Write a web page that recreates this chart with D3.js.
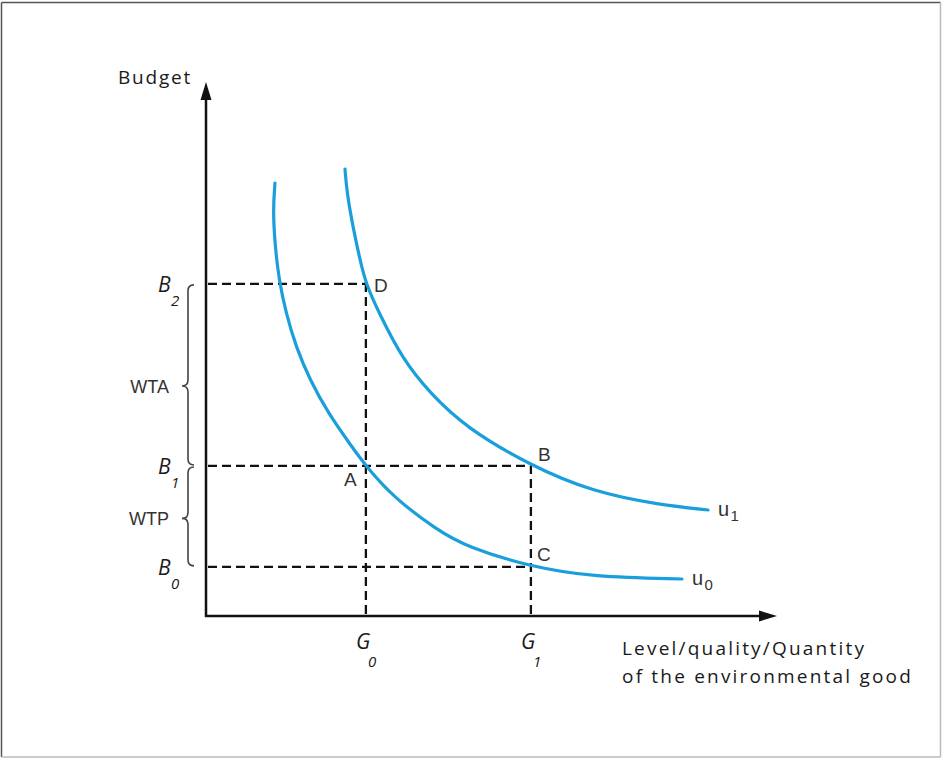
<!DOCTYPE html>
<html>
<head>
<meta charset="utf-8">
<script src="https://cdn.jsdelivr.net/npm/d3@7"></script>
<style>
  html, body { margin: 0; padding: 0; background: #fff; }
  svg { display: block; }
</style>
</head>
<body>
<svg id="chart" width="942" height="758"></svg>
<script>
// ---------------- DATA ----------------
const xDomain = [0, 100];
const yDomain = [0, 100];

// levels of the environmental good (G0, G1)
const goodValues = [28.0, 56.9];
const goodSubs = ["0", "1"];

// budget levels (B0, B1, B2)
const budgetValues = [9.2, 28.1, 62.2];
const budgetSubs = ["0", "1", "2"];

// indifference curve u0 (lower)
const u0Points = [
  [12.08, 81.09], [11.73, 76.03], [12.08, 69.48], [12.78, 62.92], [14.01, 56.74],
  [15.76, 50.37], [18.21, 44.19], [21.37, 38.01], [25.57, 31.65], [28.0, 28.1],
  [32.75, 22.28], [40.46, 16.10], [45.71, 12.92], [56.9, 9.2], [67.78, 7.30], [83.36, 6.93]
];
// indifference curve u1 (upper)
const u1Points = [
  [24.34, 83.71], [24.69, 79.21], [25.74, 72.85], [26.97, 66.67], [28.0, 62.2],
  [30.30, 56.74], [34.50, 47.94], [39.23, 41.76], [45.36, 35.39], [56.9, 28.1],
  [67.78, 23.22], [79.51, 20.79], [87.92, 19.85]
];
const curveNames = ["u", "u"];
const curveSubs = ["0", "1"];

// named points: index into goodValues / budgetValues
const pointNames = ["A", "B", "C", "D"];
const pointGood = [0, 1, 1, 0];
const pointBudget = [1, 1, 0, 2];

// brace labels
const braceLabels = ["WTP", "WTA"];
const braceFrom = [0, 1];   // lower budget index
const braceTo = [1, 2];     // upper budget index

const yAxisTitle = "Budget";
const xAxisTitle = ["Level/quality/Quantity", "of the environmental good"];

// ---------------- DRAWING ----------------
const svg = d3.select("#chart");
const x = d3.scaleLinear().domain(xDomain).range([206, 777]);
const y = d3.scaleLinear().domain(yDomain).range([616, 82]);

const blue = "#1a9fdc";
const ink = "#111";
const labelInk = "#333";

// frame
svg.append("line").attr("x1", 1.5).attr("y1", 2.5).attr("x2", 940.5).attr("y2", 2.5)
  .attr("stroke", "#555").attr("stroke-width", 1.5);
svg.append("line").attr("x1", 1.5).attr("y1", 2.5).attr("x2", 1.5).attr("y2", 757)
  .attr("stroke", "#555").attr("stroke-width", 1.5);
svg.append("line").attr("x1", 940.5).attr("y1", 2.5).attr("x2", 940.5).attr("y2", 757)
  .attr("stroke", "#bbb").attr("stroke-width", 1.5);
svg.append("line").attr("x1", 1.5).attr("y1", 757).attr("x2", 940.5).attr("y2", 757)
  .attr("stroke", "#bbb").attr("stroke-width", 1.5);

// dashed guide lines
const guides = svg.append("g").attr("stroke", ink).attr("stroke-width", 2.3)
  .attr("stroke-dasharray", "9,5").attr("fill", "none");
budgetValues.forEach((b, bi) => {
  let gx = -1;
  pointBudget.forEach((pb, k) => { if (pb === bi) gx = Math.max(gx, goodValues[pointGood[k]]); });
  if (gx >= 0) {
    guides.append("line")
      .attr("x1", x(0) + 2).attr("y1", y(b)).attr("x2", x(gx)).attr("y2", y(b));
  }
});
goodValues.forEach((g, gi) => {
  let by = -1;
  pointGood.forEach((pg, k) => { if (pg === gi) by = Math.max(by, budgetValues[pointBudget[k]]); });
  guides.append("line")
    .attr("x1", x(g)).attr("y1", y(0) - 2).attr("x2", x(g)).attr("y2", y(by));
});

// curves (smoothed B-spline through the read points)
const line = d3.line().x(d => x(d[0])).y(d => y(d[1])).curve(d3.curveBasis);
[u0Points, u1Points].forEach(pts => {
  svg.append("path").attr("d", line(pts)).attr("fill", "none")
    .attr("stroke", blue).attr("stroke-width", 3.2).attr("stroke-linecap", "round");
});

// axes
svg.append("line").attr("x1", x(0)).attr("y1", y(0) + 1).attr("x2", x(0)).attr("y2", y(100) + 14)
  .attr("stroke", ink).attr("stroke-width", 2.5);
svg.append("path")
  .attr("d", `M${x(0)},${y(100)} L${x(0) - 5.5},${y(100) + 18} L${x(0) + 5.5},${y(100) + 18} Z`)
  .attr("fill", ink);
svg.append("line").attr("x1", x(0) - 1).attr("y1", y(0)).attr("x2", x(100) - 14).attr("y2", y(0))
  .attr("stroke", ink).attr("stroke-width", 2.5);
svg.append("path")
  .attr("d", `M${x(100)},${y(0)} L${x(100) - 18},${y(0) - 5.5} L${x(100) - 18},${y(0) + 5.5} Z`)
  .attr("fill", ink);

// axis titles
svg.append("text").attr("x", 118).attr("y", 84)
  .attr("font-family", "'Open Sans', sans-serif").attr("font-size", 19)
  .attr("letter-spacing", 1.8).attr("fill", "#1a1a1a").text(yAxisTitle);
xAxisTitle.forEach((t, i) => {
  svg.append("text").attr("x", 622).attr("y", 655 + i * 28)
    .attr("font-family", "'Open Sans', sans-serif").attr("font-size", 19)
    .attr("letter-spacing", 2.2).attr("fill", "#1a1a1a").text(t);
});

// B labels
budgetValues.forEach((b, i) => {
  const g = svg.append("g").attr("font-family", "'Open Sans', sans-serif")
    .attr("font-style", "italic").attr("fill", "#1a1a1a");
  g.append("text").attr("x", 158).attr("y", y(b) + 8).attr("font-size", 21).text("B");
  g.append("text").attr("x", 171).attr("y", y(b) + 22).attr("font-size", 15).text(budgetSubs[i]);
});
// G labels
goodValues.forEach((v, i) => {
  const g = svg.append("g").attr("font-family", "'Open Sans', sans-serif")
    .attr("font-style", "italic").attr("fill", "#1a1a1a");
  g.append("text").attr("x", x(v) - 10).attr("y", y(0) + 33).attr("font-size", 21).text("G");
  g.append("text").attr("x", x(v) + 2).attr("y", y(0) + 51).attr("font-size", 15).text(goodSubs[i]);
});

// point labels
const pointOffsets = { A: [-22, 20], B: [7, -5], C: [6, -6], D: [8, 8] };
pointNames.forEach((n, k) => {
  const px = x(goodValues[pointGood[k]]), py = y(budgetValues[pointBudget[k]]);
  svg.append("text").attr("x", px + pointOffsets[n][0]).attr("y", py + pointOffsets[n][1])
    .attr("font-family", "'Liberation Sans', Arial, sans-serif").attr("font-size", 19)
    .attr("fill", labelInk).text(n);
});

// curve labels
[u0Points, u1Points].forEach((pts, i) => {
  const last = pts[pts.length - 1];
  const lx = x(last[0]) + 10, ly = y(last[1]) + 6;
  svg.append("text").attr("x", lx).attr("y", ly)
    .attr("font-family", "'Liberation Sans', Arial, sans-serif").attr("font-size", 20)
    .attr("fill", labelInk).text(curveNames[i]);
  svg.append("text").attr("x", lx + 12.5).attr("y", ly + 5)
    .attr("font-family", "'Liberation Sans', Arial, sans-serif").attr("font-size", 15)
    .attr("fill", labelInk).text(curveSubs[i]);
});

// braces
braceLabels.forEach((lab, i) => {
  const y1 = y(budgetValues[braceTo[i]]) + 1;
  const y2 = y(budgetValues[braceFrom[i]]) - 1;
  const ym = (lab === "WTA") ? 386 : (y1 + y2) / 2 + 2;
  const xe = 194, xm = 188, xt = 182, r = 6;
  svg.append("path")
    .attr("d", `M${xe},${y1} Q${xm},${y1} ${xm},${y1 + r} L${xm},${ym - r} Q${xm},${ym} ${xt},${ym} ` +
               `Q${xm},${ym} ${xm},${ym + r} L${xm},${y2 - r} Q${xm},${y2} ${xe},${y2}`)
    .attr("fill", "none").attr("stroke", "#444").attr("stroke-width", 1.6);
  svg.append("text").attr("x", 169).attr("y", ym + 6.5).attr("text-anchor", "end")
    .attr("font-family", "'Liberation Sans', Arial, sans-serif").attr("font-size", 18)
    .attr("fill", labelInk).text(lab);
});
</script>
</body>
</html>
